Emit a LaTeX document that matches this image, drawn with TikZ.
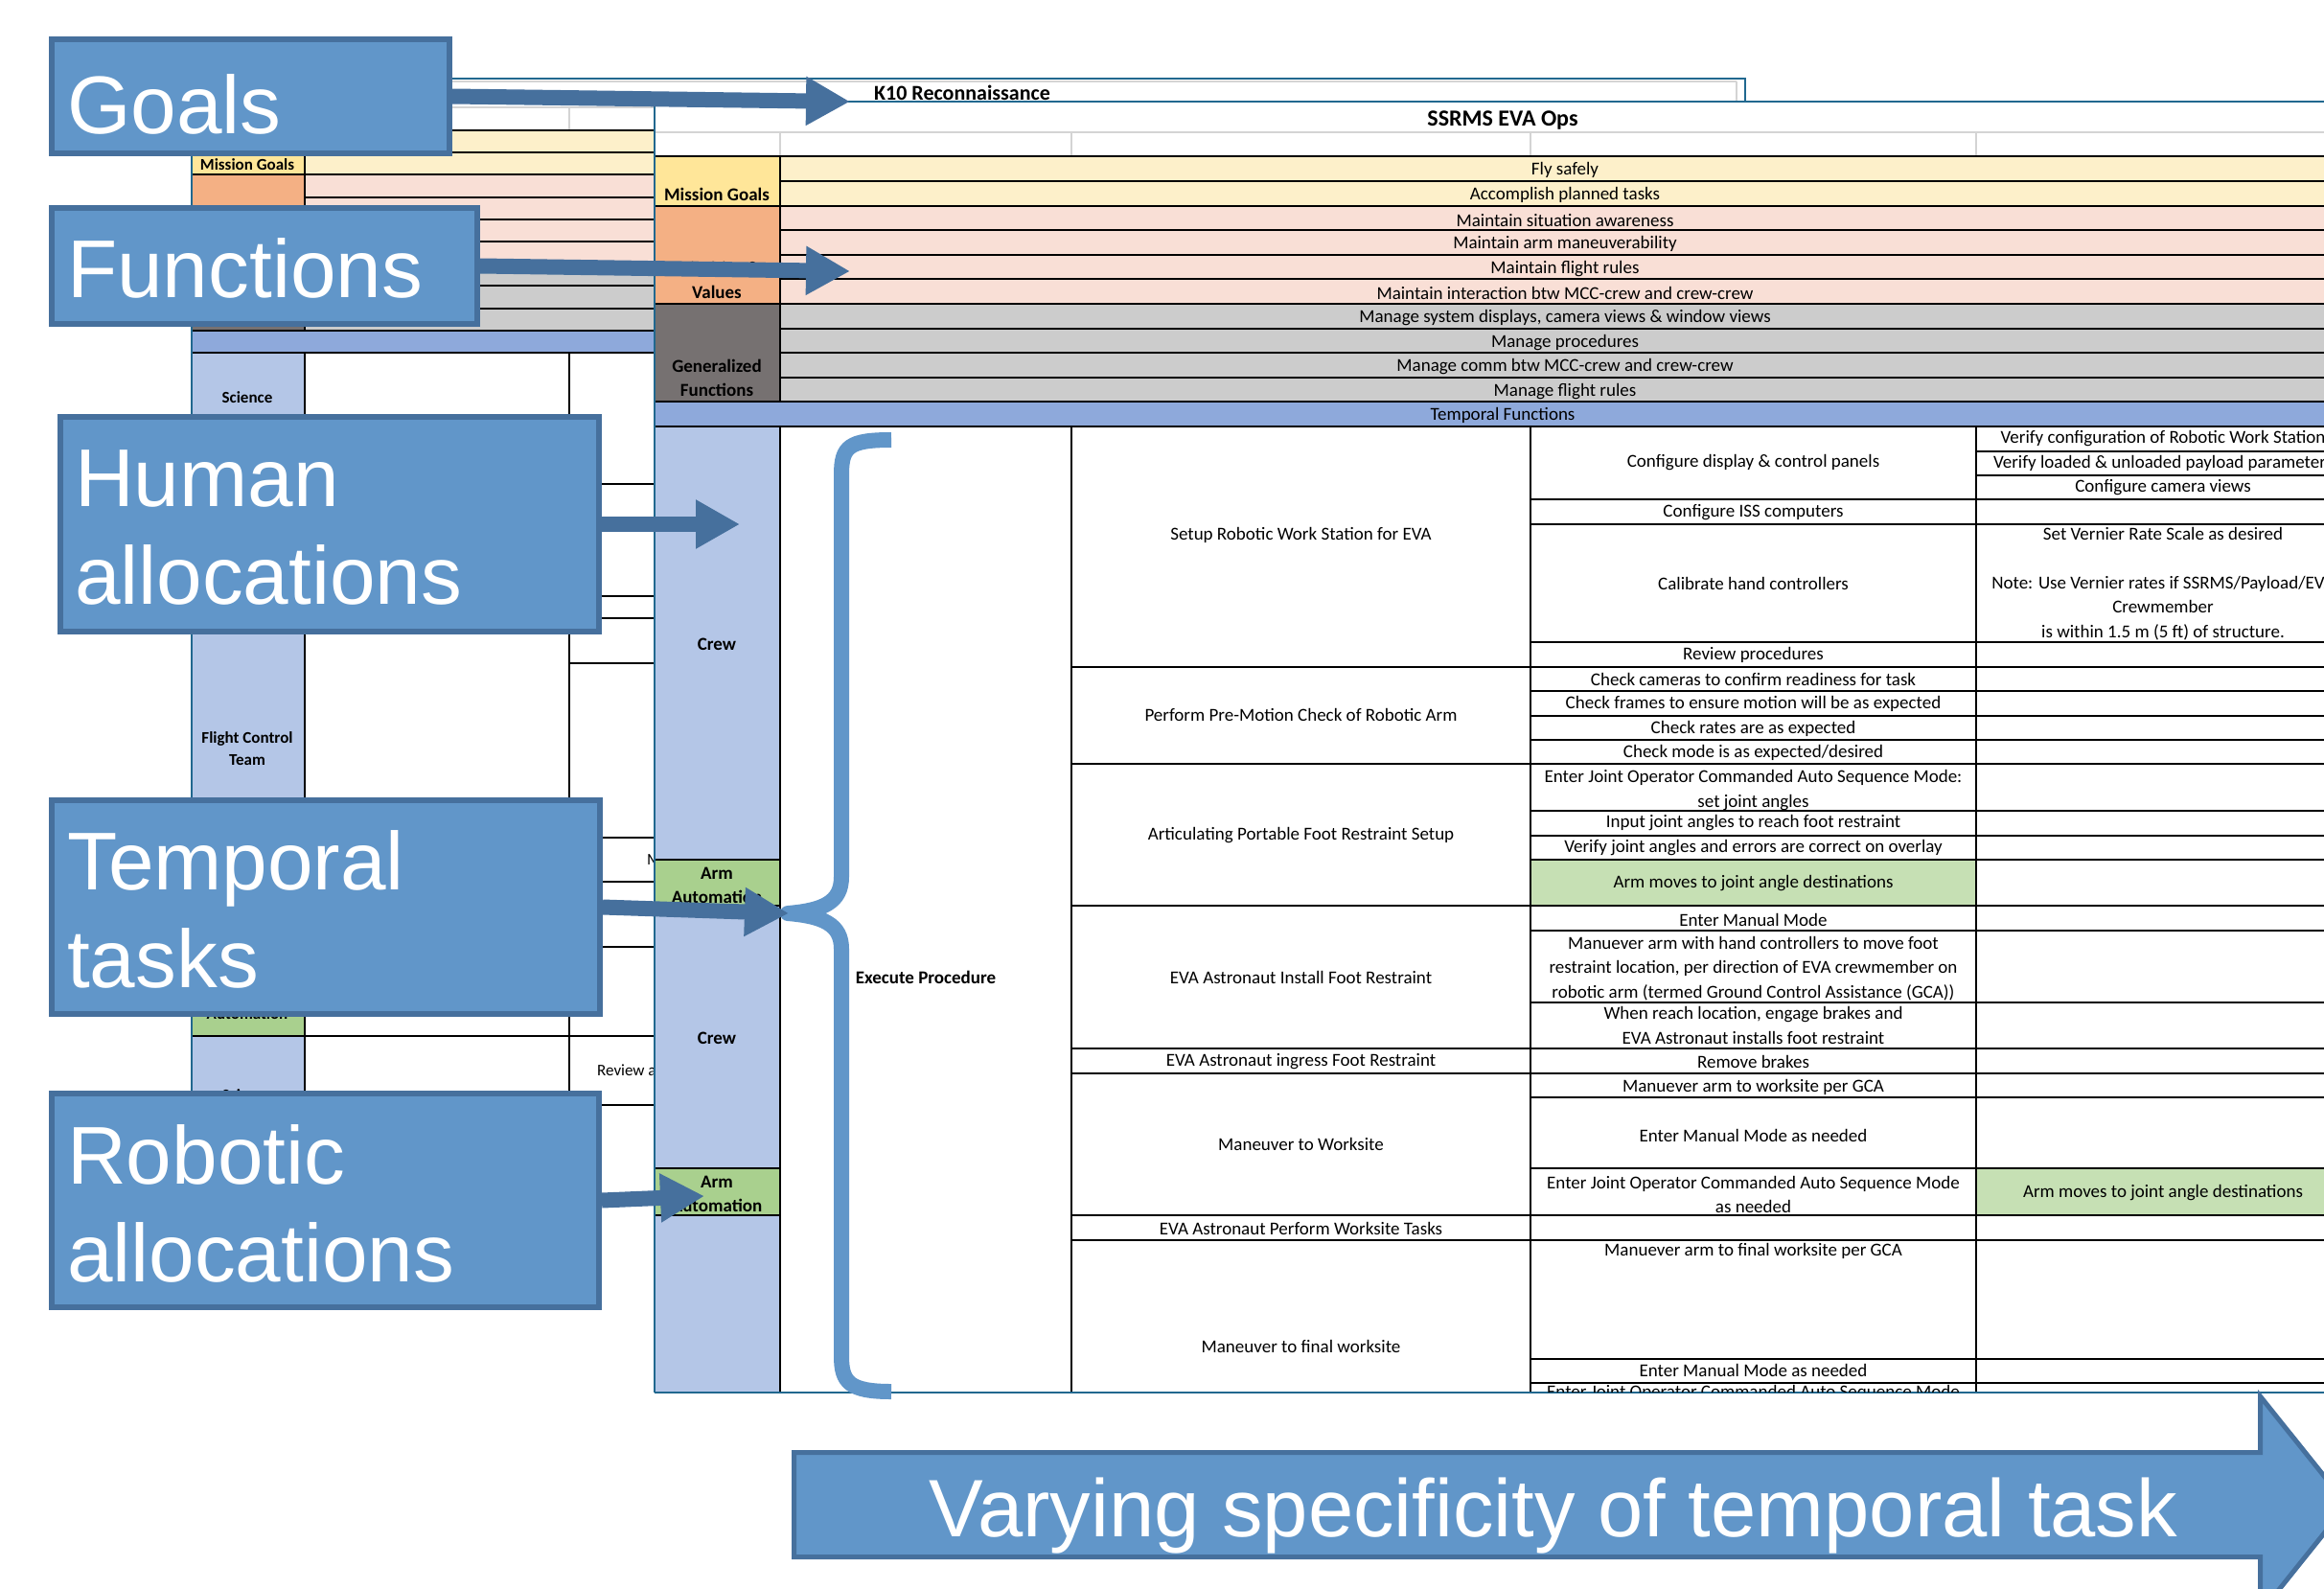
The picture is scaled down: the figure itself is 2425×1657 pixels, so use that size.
\documentclass[tikz,border=0pt]{standalone}
\usepackage{fontspec}
\setmainfont{Carlito}
\newfontfamily\callfont{Liberation Sans}
\usetikzlibrary{arrows.meta}
\definecolor{sheetedge}{HTML}{21688F}
\definecolor{goalrow}{HTML}{FDF0CA}
\definecolor{goallbl}{HTML}{FFE699}
\definecolor{valrow}{HTML}{F9DFD6}
\definecolor{vallbl}{HTML}{F4B084}
\definecolor{funrow}{HTML}{CCCCCC}
\definecolor{funlbl}{HTML}{767171}
\definecolor{temprow}{HTML}{8EA9DB}
\definecolor{crewlbl}{HTML}{B4C6E7}
\definecolor{armlbl}{HTML}{A9D08E}
\definecolor{armcell}{HTML}{C6E0B4}
\definecolor{callfill}{HTML}{6196C9}
\definecolor{calledge}{HTML}{46709D}
\definecolor{gridgray}{HTML}{D4D4D4}
\begin{document}
\begin{tikzpicture}[x=1pt,y=-1pt,
  tline/.style={line width=2pt, black},
  kline/.style={line width=1.8pt, black},
  gline/.style={line width=1.6pt, gridgray},
  sheetline/.style={line width=2.5pt, sheetedge},
  tcell/.style={font=\fontsize{19}{25.5}\selectfont, align=center, inner sep=0pt},
  bcell/.style={font=\bfseries\fontsize{19}{25}\selectfont, align=center, inner sep=0pt},
  kcell/.style={font=\bfseries\fontsize{17}{23}\selectfont, align=center, inner sep=0pt},
  kplain/.style={font=\fontsize{17}{23}\selectfont, inner sep=0pt, anchor=west},
  callbox/.style={draw=calledge, fill=callfill, line width=6pt, inner sep=0pt},
  calltext/.style={text=white, font=\callfont\fontsize{85.5}{100}\selectfont, inner sep=0pt, anchor=base west},
  blockarrow/.style={draw=calledge, line width=16pt, -{Triangle[length=46pt,width=48pt]}},
  bracestroke/.style={draw=callfill, line width=16pt, line join=round},
]
\useasboundingbox (0,0) rectangle (2425,1657);
\fill[white] (0,0) rectangle (2425,1657);

% ---------------- K10 background sheet ----------------
\fill[goalrow] (318,136) rectangle (683,182);
\fill[goallbl] (200,136) rectangle (318,182);
\fill[valrow] (318,182) rectangle (683,275);
\fill[vallbl] (200,182) rectangle (318,275);
\fill[funrow] (318,275) rectangle (683,345);
\fill[funlbl] (200,275) rectangle (318,345);
\fill[temprow] (200,345) rectangle (683,368);
\fill[crewlbl] (200,368) rectangle (318,1030);
\fill[armlbl] (200,1030) rectangle (318,1081);
\fill[crewlbl] (200,1081) rectangle (318,1365);
\draw[gline] (200,112) -- (683,112);
\draw[gline] (594,112) -- (594,136);
\draw[gline] (202,85) -- (1812,85);
\draw[gline] (1812,85) -- (1812,106);
\foreach \y in {136,182,275,345,368,1081} \draw[kline] (200,\y) -- (683,\y);
\foreach \y in {159,206,229,252,298,322} \draw[kline] (318,\y) -- (683,\y);
\draw[kline] (318,136) -- (318,345);
\draw[kline] (318,368) -- (318,1365);
\draw[kline] (594,368) -- (594,1365);
\foreach \y in {505,622,645,692,874,920,988,1153} \draw[kline] (594,\y) -- (683,\y);
\draw[sheetline] (200,1365) -- (200,82) -- (1821,82) -- (1821,106);
\node[font=\bfseries\fontsize{22}{26}\selectfont, inner sep=0pt] (k10title) at (1004,97) {K10 Reconnaissance};
\node[kcell] (kmg) at (258,172) {Mission Goals};
\node[kcell] (kpv) at (258,222) {Priorities \&};
\node[kcell] (ksci) at (258,415) {Science};
\node[kcell] (kfct) at (258,781) {Flight Control\\Team};
\node[kcell] (karm) at (258,1047) {Arm\\Automation};
\node[kcell] (ksci2) at (258,1143) {Science};
\node[kplain] (km) at (675,897) {M};
\node[kplain] (krev) at (623,1117) {Review a};

% ---------------- Main sheet: SSRMS EVA Ops ----------------
\fill[white] (683,106) rectangle (2452,1453);
\fill[goalrow] (814,163) rectangle (2452,215);
\fill[goallbl] (683,163) rectangle (814,215);
\fill[valrow] (814,215) rectangle (2452,317);
\fill[vallbl] (683,215) rectangle (814,317);
\fill[funrow] (814,317) rectangle (2452,419);
\fill[funlbl] (683,317) rectangle (814,419);
\fill[temprow] (683,419) rectangle (2452,445);
\fill[crewlbl] (683,445) rectangle (814,1453);
\fill[armlbl] (683,897) rectangle (814,945);
\fill[armlbl] (683,1219) rectangle (814,1268);
\fill[armcell] (1597,897) rectangle (2062,945);
\fill[armcell] (2062,1219) rectangle (2452,1268);

\draw[gline] (683,138) -- (2452,138);
\foreach \x in {814,1118,1597,2062} \draw[gline] (\x,138) -- (\x,163);
\foreach \y in {163,215,317,419,445} \draw[tline] (683,\y) -- (2452,\y);
\foreach \y in {189,240,266,291,343,368,394} \draw[tline] (814,\y) -- (2452,\y);
\draw[tline] (814,163) -- (814,419);
\foreach \x in {814,1118,1597,2062} \draw[tline] (\x,445) -- (\x,1453);
\foreach \y in {897,945,1219,1268} \draw[tline] (683,\y) -- (814,\y);
\foreach \y in {696,797,945,1094,1120,1268,1294} \draw[tline] (1118,\y) -- (1597,\y);
\foreach \y in {521,547,670,696,721,747,772,797,846,872,897,945,971,1046,1094,1120,1145,1219,1268,1294,1418,1443} \draw[tline] (1597,\y) -- (2452,\y);
\foreach \y in {471,496} \draw[tline] (2062,\y) -- (2452,\y);
\draw[sheetline] (683,1453) -- (683,106) -- (2452,106);
\draw[sheetline] (683,1453) -- (2452,1453);

\node[font=\bfseries\fontsize{24}{28}\selectfont, inner sep=0pt] (title) at (1568,126) {SSRMS EVA Ops};
% header rows
\node[tcell] (h1) at (1633,177.5) {Fly safely};
\node[tcell] (h2) at (1633,203.5) {Accomplish planned tasks};
\node[tcell] (h3) at (1633,229.5) {Maintain situation awareness};
\node[tcell] (h4) at (1633,254.5) {Maintain arm maneuverability};
\node[tcell] (h5) at (1633,280.5) {Maintain flight rules};
\node[tcell] (h6) at (1633,305.5) {Maintain interaction btw MCC-crew and crew-crew};
\node[tcell] (h7) at (1633,331.5) {Manage system displays, camera views \& window views};
\node[tcell] (h8) at (1633,357.5) {Manage procedures};
\node[tcell] (h9) at (1633,382.5) {Manage comm btw MCC-crew and crew-crew};
\node[tcell] (h10) at (1633,408.5) {Manage flight rules};
\node[tcell] (htf) at (1568,433.5) {Temporal Functions};
% labels
\node[bcell] (lmg) at (748,203) {Mission Goals};
\node[bcell] (lpv) at (748,292) {Priorities \&\\Values};
\node[bcell] (lgf) at (748,394) {Generalized\\Functions};
\node[bcell] (lcrew1) at (748,672) {Crew};
\node[bcell] (larm1) at (748,924) {Arm\\Automation};
\node[bcell] (lcrew2) at (748,1083) {Crew};
\node[bcell] (larm2) at (748,1246) {Arm\\Automation};
\node[bcell] (exe) at (966,1020) {Execute Procedure};
% column 3
\node[tcell] (t1) at (1357.5,558) {Setup Robotic Work Station for EVA};
\node[tcell] (t2) at (1357.5,746) {Perform Pre-Motion Check of Robotic Arm};
\node[tcell] (t3) at (1357.5,872) {Articulating Portable Foot Restraint Setup};
\node[tcell] (t4) at (1357.5,1020) {EVA Astronaut Install Foot Restraint};
\node[tcell] (t5) at (1357.5,1108) {EVA Astronaut ingress Foot Restraint};
\node[tcell] (t6) at (1357.5,1194) {Maneuver to Worksite};
\node[tcell] (t7) at (1357.5,1282) {EVA Astronaut Perform Worksite Tasks};
\node[tcell] (t8) at (1357.5,1405) {Maneuver to final worksite};
% column 4
\node[tcell] (s1) at (1829.5,483) {Configure display \& control panels};
\node[tcell] (s2) at (1829.5,535) {Configure ISS computers};
\node[tcell] (s3) at (1829.5,609) {Calibrate hand controllers};
\node[tcell] (s4) at (1829.5,683) {Review procedures};
\node[tcell] (s5) at (1829.5,709) {Check cameras to confirm readiness for task};
\node[tcell] (s6) at (1829.5,734) {Check frames to ensure motion will be as expected};
\node[tcell] (s7) at (1829.5,760) {Check rates are as expected};
\node[tcell] (s8) at (1829.5,785) {Check mode is as expected/desired};
\node[tcell] (s9) at (1829.5,824.5) {Enter Joint Operator Commanded Auto Sequence Mode:\\set joint angles};
\node[tcell] (s10) at (1829.5,859) {Input joint angles to reach foot restraint};
\node[tcell] (s11) at (1829.5,885) {Verify joint angles and errors are correct on overlay};
\node[tcell] (s12) at (1829.5,922) {Arm moves to joint angle destinations};
\node[tcell] (s13) at (1829.5,960) {Enter Manual Mode};
\node[tcell] (s14) at (1829.5,1010.5) {Manuever arm with hand controllers to move foot\\restraint location, per direction of EVA crewmember on\\robotic arm (termed Ground Control Assistance (GCA))};
\node[tcell] (s15) at (1829.5,1070) {When reach location, engage brakes and\\EVA Astronaut installs foot restraint};
\node[tcell] (s16) at (1829.5,1108) {Remove brakes};
\node[tcell] (s17) at (1829.5,1134) {Manuever arm to worksite per GCA};
\node[tcell] (s18) at (1829.5,1185) {Enter Manual Mode as needed};
\node[tcell] (s19) at (1829.5,1246.5) {Enter Joint Operator Commanded Auto Sequence Mode\\as needed};
\node[tcell] (s20) at (1829.5,1305) {Manuever arm to final worksite per GCA};
\node[tcell] (s21) at (1829.5,1430) {Enter Manual Mode as needed};
\begin{scope}
\clip (1598,1444) rectangle (2061,1452);
\node[tcell] (s22) at (1829.5,1453) {Enter Joint Operator Commanded Auto Sequence Mode};
\end{scope}
% column 5
\node[tcell] (u1) at (2257,458) {Verify configuration of Robotic Work Station};
\node[tcell] (u2) at (2257,483.5) {Verify loaded \& unloaded payload parameters};
\node[tcell] (u3) at (2257,508.5) {Configure camera views};
\node[tcell] (u4) at (2257,609) {Set Vernier Rate Scale as desired\\[25.5pt]Note: Use Vernier rates if SSRMS/Payload/EVA\\Crewmember\\is within 1.5 m (5 ft) of structure.};
\node[tcell] (u5) at (2257,1245) {Arm moves to joint angle destinations};

% ---------------- brace ----------------
\draw[bracestroke] (930,459) .. controls (886,459) and (878,466) .. (878,495) -- (878,915)
  .. controls (878,942) and (858,950) .. (822,953) .. controls (858,956) and (878,964) .. (878,990)
  -- (878,1415) .. controls (878,1442) and (886,1452) .. (930,1452);

% ---------------- callout boxes ----------------
\node[callbox, minimum width=415pt, minimum height=119pt] (goals) at (261.5,100.5) {};
\node[callbox, minimum width=444pt, minimum height=121pt] (functions) at (276,277.5) {};
\node[callbox, minimum width=562pt, minimum height=224pt] (human) at (344,547) {};
\node[callbox, minimum width=572pt, minimum height=223pt] (temporal) at (340,946.5) {};
\node[callbox, minimum width=571pt, minimum height=223pt] (robotic) at (339.5,1252.5) {};
\node[calltext] (goalsT) at (70,139) {Goals};
\node[calltext] (functionsT) at (70,310) {Functions};
\node[calltext] (humanA) at (78,528) {Human};
\node[calltext] (humanB) at (78,630) {allocations};
\node[calltext] (temporalA) at (70,928) {Temporal};
\node[calltext] (temporalB) at (70,1030) {tasks};
\node[calltext] (roboticA) at (70,1235) {Robotic};
\node[calltext] (roboticB) at (70,1337) {allocations};

\coordinate (goalsTip) at (887,106);
\coordinate (functionsTip) at (887,283);
\coordinate (humanTip) at (772,547);
\coordinate (temporalTip) at (823,953);
\coordinate (roboticTip) at (735,1248);
\draw[blockarrow] (goals.east) -- (goalsTip);
\draw[blockarrow] (functions.east) -- (functionsTip);
\draw[blockarrow] (human.east) -- (humanTip);
\draw[blockarrow] (temporal.east) -- (temporalTip);
\draw[blockarrow] (robotic.east) -- (roboticTip);

% ---------------- bottom arrow ----------------
\draw[draw=calledge, fill=callfill, line width=5pt, line join=miter]
  (828.5,1515.5) -- (2358.5,1515.5) -- (2358.5,1457) -- (2449,1570) -- (2358.5,1683)
  -- (2358.5,1624.5) -- (828.5,1624.5) -- cycle;
\node[text=white, font=\callfont\fontsize{85}{100}\selectfont, inner sep=0pt, anchor=base] (vary) at (1621,1603) {Varying specificity of temporal task};
\end{tikzpicture}
\end{document}
